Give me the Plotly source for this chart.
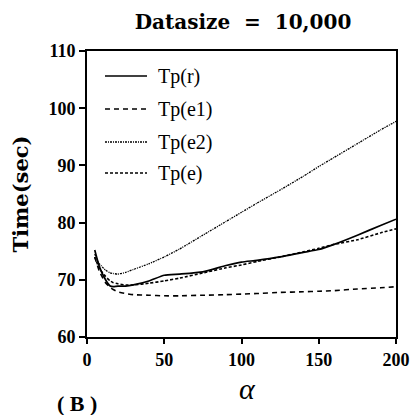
import plotly.graph_objects as go

alpha = [5, 8, 12, 15, 17, 20, 25, 30, 40, 50, 60, 75, 90, 100, 110, 125, 140, 150, 160, 175, 190, 200]
tp_r  = [75.2, 72.3, 70.0, 68.9, 68.8, 68.9, 68.9, 69.1, 69.8, 70.8, 71.0, 71.4, 72.5, 73.1, 73.4, 74.0, 74.8, 75.3, 76.2, 77.8, 79.5, 80.6]
tp_e1 = [74.0, 71.5, 69.5, 68.7, 68.3, 67.9, 67.6, 67.4, 67.3, 67.2, 67.2, 67.3, 67.4, 67.5, 67.6, 67.8, 67.9, 68.0, 68.1, 68.4, 68.6, 68.8]
tp_e2 = [74.5, 72.8, 71.7, 71.2, 71.1, 71.0, 71.3, 71.8, 72.8, 74.0, 75.4, 77.8, 80.2, 81.8, 83.4, 85.7, 88.1, 89.8, 91.4, 93.8, 96.2, 97.7]
tp_e  = [74.0, 72.0, 70.6, 69.8, 69.5, 69.3, 69.1, 69.1, 69.4, 69.8, 70.3, 71.2, 72.1, 72.6, 73.2, 74.0, 74.9, 75.5, 76.2, 77.0, 78.2, 78.9]

names = ["Tp(r)", "Tp(e1)", "Tp(e2)", "Tp(e)"]
values = [tp_r, tp_e1, tp_e2, tp_e]
dashes = ["solid", "5px,4px", "2px,1px,1px,1px", "3px,2px"]
widths = [1.7, 1.6, 1.3, 1.6]

fig = go.Figure()
for name, ys, dash, w in zip(names, values, dashes, widths):
    fig.add_trace(go.Scatter(x=alpha, y=ys, mode="lines", name=name, showlegend=False,
                             line=dict(color="black", width=w, dash=dash, shape="spline", smoothing=0.5)))

serif = "Liberation Serif, serif"
dserif = "DejaVu Serif, serif"
W, H = 414, 415
L, R, T, B = 87, 18, 51, 78
pw, ph = W - L - R, H - T - B

def px(x):
    return (x - L) / pw

def py(y):
    return (H - B - y) / ph

fig.update_layout(
    width=W, height=H, autosize=False,
    margin=dict(l=L, r=R, t=T, b=B, autoexpand=False),
    paper_bgcolor="white", plot_bgcolor="white",
    font=dict(family=serif, color="black", size=15),
    title=dict(text="<b>Datasize  =  10,000</b>", x=243 / W, xanchor="center",
               y=1 - 22 / H, yanchor="middle", automargin=False,
               font=dict(size=20, family=dserif, color="black")),
    showlegend=False,
    xaxis=dict(range=[0, 200], tickvals=[0, 50, 100, 150, 200], ticks="outside", ticklen=5,
               automargin=False,
               showline=True, linecolor="black", linewidth=2, mirror=True, showgrid=False, zeroline=False,
               tickfont=dict(size=18, family=serif, weight="bold"), tickcolor="black", tickwidth=1.5),
    yaxis=dict(range=[60, 110], tickvals=[60, 70, 80, 90, 100, 110], ticks="outside", ticklen=6,
               automargin=False,
               showline=True, linecolor="black", linewidth=2, mirror=True, showgrid=False, zeroline=False,
               tickfont=dict(size=18, family=serif, weight="bold"), tickcolor="black", tickwidth=1.5,
               title=dict(text="<b>Time(sec)</b>", font=dict(size=21, family=dserif), standoff=14)),
)

# legend drawn manually (line samples + labels)
rows = [76, 109, 142, 173]
for name, dash, w, yy in zip(names, dashes, widths, rows):
    fig.add_shape(type="line", xref="paper", yref="paper", x0=px(105), x1=px(147), y0=py(yy), y1=py(yy),
                  line=dict(color="black", width=w, dash=dash))
    fig.add_annotation(text=name, xref="paper", yref="paper", x=px(156), y=py(yy), xanchor="left",
                       yanchor="middle", showarrow=False, font=dict(size=20, family=serif))

fig.add_annotation(text="<i>α</i>", xref="paper", yref="paper", x=px(247), y=py(388), showarrow=False,
                   xanchor="center", yanchor="middle", font=dict(size=30, family=serif))
fig.add_annotation(text="<b>( B )</b>", xref="paper", yref="paper", x=px(77), y=py(403), showarrow=False,
                   font=dict(size=22, family=serif), xanchor="center", yanchor="middle")

fig.write_html("out.html", config={"displayModeBar": False, "responsive": False},
               post_script="document.body.style.margin='0px';document.body.style.overflow='hidden';")
